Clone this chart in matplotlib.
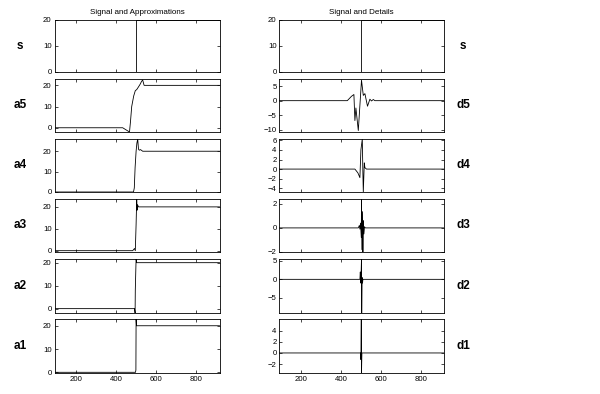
import matplotlib
matplotlib.use("Agg")
import matplotlib.pyplot as plt

plt.rcParams['font.family'] = ['Liberation Sans', 'DejaVu Sans']

# breakpoints of each trace
s_x = [92, 500, 500, 917]
s_y = [0, 0, 20, 20]

a5_x = [92, 433, 467, 472, 478, 488, 496, 503, 510, 520, 528, 533, 540, 917]
a5_y = [0, 0, -2, 3, 10, 15, 17.5, 18, 19, 20.5, 22, 22.5, 20, 20]
a4_x = [92, 487, 491, 495, 500, 504, 508, 512, 516, 522, 533, 917]
a4_y = [0, 0, 2, 12, 20, 24, 26, 21, 20.5, 20.8, 20, 20]
a3_x = [92, 483, 492, 496, 500, 503, 505, 507, 512, 917]
a3_y = [0, 0, 1, 0, 12, 23.6, 18.5, 21, 20, 20]
a2_x = [92, 492, 495, 496, 498, 500, 503, 917]
a2_y = [0, 0, -1.9, 8, 15, 21.6, 20, 20]
a1_x = [92, 497, 499, 500, 502, 917]
a1_y = [0, 0, 1, 22.9, 20, 20]

d5_x = [92, 432, 453, 465, 470, 475, 487, 503, 512, 520, 533, 545, 553, 562, 570, 917]
d5_y = [0, 0, 1.5, 2.1, -6.8, -2.5, -10.2, 7, 1.8, 2.4, -1.9, 0.5, -0.1, 0.4, 0, 0]
d4_x = [92, 470, 485, 495, 500, 503, 507, 510, 512, 517, 520, 528, 917]
d4_y = [0, 0, -0.8, -1.8, 4, 5, 6.3, -1, -4.8, 1.3, 0.3, 0, 0]
d3_x = [92, 487, 492, 495, 498, 502, 503, 505, 508, 510, 512, 515, 518, 522, 917]
d3_y = [0, 0, 0.2, -0.1, 0.4, -0.8, 2.4, -1.8, 1.35, -2, 0.6, -0.5, 0.1, 0, 0]
d2_x = [92, 495, 497, 499, 501, 503, 504, 506, 508, 510, 917]
d2_y = [0, 0, 2, -1, 1.5, 5.5, -9.1, 0.5, -1, 0, 0]
d1_x = [92, 499, 500, 502, 503, 505, 917]
d1_y = [0, 0, -1.2, 6.1, -3.6, 0, 0]

left_names = ['s', 'a5', 'a4', 'a3', 'a2', 'a1']
right_names = ['s', 'd5', 'd4', 'd3', 'd2', 'd1']
left_data = [(s_x, s_y), (a5_x, a5_y), (a4_x, a4_y), (a3_x, a3_y), (a2_x, a2_y), (a1_x, a1_y)]
right_data = [(s_x, s_y), (d5_x, d5_y), (d4_x, d4_y), (d3_x, d3_y), (d2_x, d2_y), (d1_x, d1_y)]

left_ylim = [(0, 20), (-2, 23), (0, 26), (-0.6, 23.6), (-1.9, 21.6), (-0.3, 22.9)]
right_ylim = [(0, 20), (-10.7, 7.4), (-4.8, 6.3), (-2, 2.4), (-9.1, 5.5), (-3.6, 6.1)]
left_yticks = [[0, 10, 20]] * 6
right_yticks = [[0, 10, 20], [-10, -5, 0, 5], [-4, -2, 0, 2, 4, 6], [-2, 0, 2], [-5, 0, 5], [-2, 0, 2, 4]]
xticks = [200, 400, 600, 800]
xlim = (92, 917)

W, H = 600, 394
fig = plt.figure(figsize=(6, 3.94), dpi=100)

tops = [20, 79, 139, 199, 259, 319]
bots = [72, 132, 192, 252, 313, 373]
col_left = [54.5, 279.3]
col_w = 165


def make_panel(x0, i, data, ylim, yt):
    ax = fig.add_axes([x0 / W, 1 - bots[i] / H, col_w / W, (bots[i] - tops[i]) / H])
    ax.plot(data[0], data[1], color='black', lw=0.6)
    ax.set_xlim(*xlim)
    ax.set_ylim(*ylim)
    ax.set_xticks(xticks)
    ax.set_yticks(yt)
    ax.tick_params(direction='in', top=True, right=True, length=2.5, width=0.5,
                   labelsize=5.6, pad=2)
    if i < 5:
        ax.set_xticklabels([])
    for sp in ax.spines.values():
        sp.set_linewidth(0.6)
    return ax


for i in range(6):
    ax = make_panel(col_left[0], i, left_data[i], left_ylim[i], left_yticks[i])
    if i == 0:
        ax.set_title('Signal and Approximations', fontsize=5.8, pad=4)
    fig.text(20 / W, 1 - (tops[i] + bots[i]) / 2 / H, left_names[i],
             ha='center', va='center', fontsize=8.5, fontweight='bold')

    ax = make_panel(col_left[1], i, right_data[i], right_ylim[i], right_yticks[i])
    if i == 0:
        ax.set_title('Signal and Details', fontsize=5.8, pad=4)
    fig.text(463 / W, 1 - (tops[i] + bots[i]) / 2 / H, right_names[i],
             ha='center', va='center', fontsize=8.5, fontweight='bold')

fig.savefig('out.png', dpi=100)
